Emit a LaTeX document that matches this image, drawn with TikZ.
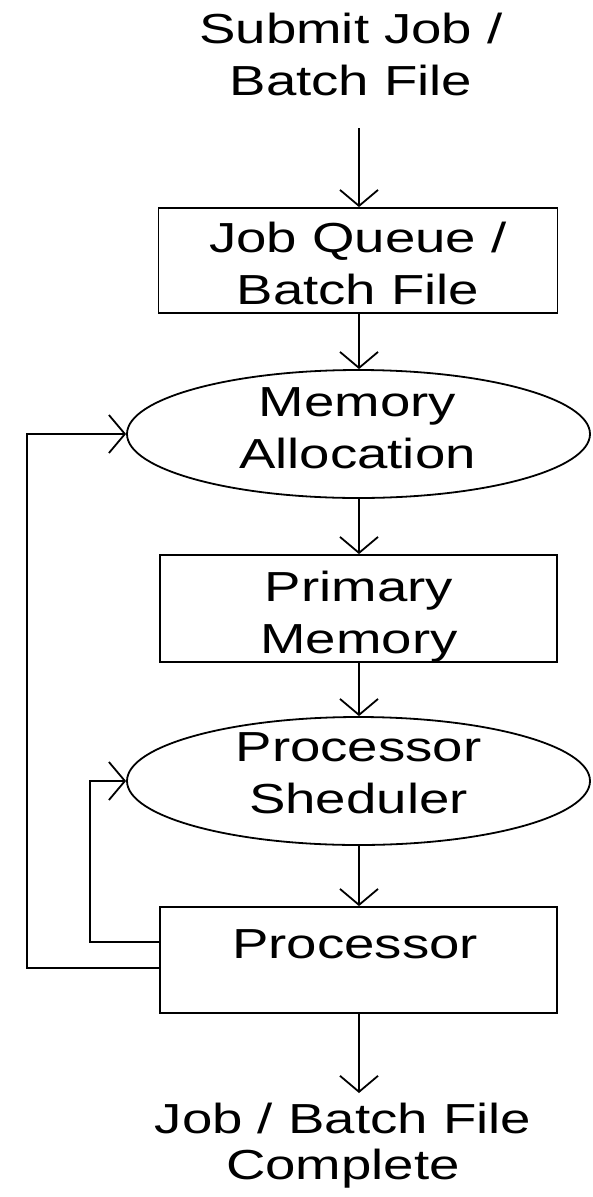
\documentclass[tikz,border=0pt]{standalone}
\usepackage{fontspec}
\setmainfont{Liberation Sans}[FakeStretch=1.3]
\usetikzlibrary{arrows.meta,shapes.geometric}

\tikzset{
  txt/.style={align=center, inner sep=0pt, font=\fontsize{42}{52}\selectfont},
  blk/.style={draw, line width=1.8pt, minimum width=397pt, minimum height=106pt, inner sep=0pt},
  oval/.style={draw, ellipse, line width=1.8pt, minimum width=463pt, minimum height=128pt, inner sep=0pt},
  arr/.style={line width=1.8pt, -{Straight Barb[length=16pt,width=38pt]}}
}

\begin{document}
\begin{tikzpicture}[x=1pt,y=-1pt]
  \useasboundingbox (0,0) rectangle (592,1197);
  % start and end of the flow
  \node[txt] (submit) at (351,54) {Submit Job /\\Batch File};
  \coordinate (in) at (359,128);
  \coordinate (out) at (359,1093);
  \node[txt, font=\fontsize{42}{46}\selectfont] (done) at (343,1145.5) {Job / Batch File\\Complete};
  % blocks
  \node[blk, minimum width=399pt, minimum height=105pt] (queue) at (358,260.5) {};
  \node[oval] (alloc) at (358.5,434) {};
  \node[blk, minimum height=107pt] (primary) at (358.5,608.5) {};
  \node[oval] (sched) at (358.5,781) {};
  \node[blk] (proc) at (358.5,960) {};
  % texts
  \node[txt] (queuetext) at (358,263.5) {Job Queue /\\Batch File};
  \node[txt] (alloctext) at (357.5,428) {Memory\\Allocation};
  \node[txt] (primarytext) at (359,617) {Primary\\Memory};
  \node[txt] (schedtext) at (358.5,773) {Processor\\Sheduler};
  \node[txt] (proctext) at (355,944.5) {Processor};
  % main flow
  \draw[arr] (in) -- (queue.north -| in);
  \draw[arr] (queue.south -| in) -- (alloc.north -| in);
  \draw[arr] (alloc.south -| in) -- (primary.north -| in);
  \draw[arr] (primary.south -| in) -- (sched.north -| in);
  \draw[arr] (sched.south -| in) -- (proc.north -| in);
  \draw[arr] (proc.south -| in) -- (out);
  % feedback loops
  \draw[arr] ([yshift=-8pt]proc.west) -- ++(-132,0) |- (alloc.west);
  \draw[arr] ([yshift=18pt]proc.west) -- ++(-69,0) |- (sched.west);
\end{tikzpicture}
\end{document}
